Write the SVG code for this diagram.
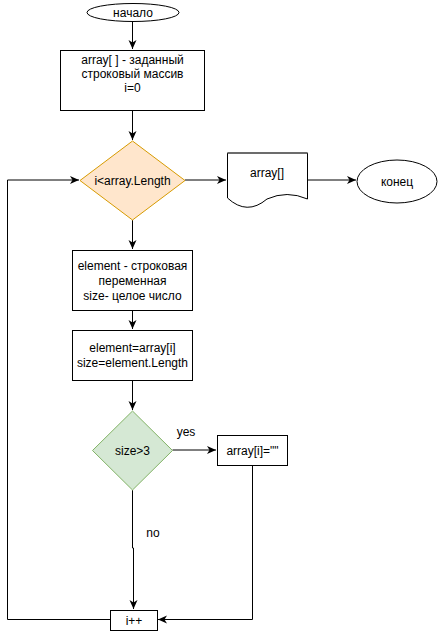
<svg xmlns="http://www.w3.org/2000/svg" width="438" height="631" viewBox="0 0 438 631">
<style>
text{font-family:"Liberation Sans",Arial,sans-serif;font-size:12px;fill:#000;text-anchor:middle;dominant-baseline:central}
.n{fill:#fff;stroke:#000;stroke-width:1}
.c{fill:none;stroke:#000;stroke-width:1}
</style>
<defs>
<marker id="a" viewBox="0 0 10 10" refX="9" refY="5" markerWidth="10" markerHeight="10" markerUnits="userSpaceOnUse" orient="auto">
<path d="M0,1 L9,5 L0,9 L2.5,5 Z" fill="#000"/>
</marker>
</defs>
<rect width="438" height="631" fill="#fff"/>
<g id="connectors">
<path class="c" d="M132.5,21 V49" marker-end="url(#a)"/>
<path class="c" d="M132.5,110 V140" marker-end="url(#a)"/>
<path class="c" d="M185,180 H226" marker-end="url(#a)"/>
<path class="c" d="M307,180 H356" marker-end="url(#a)"/>
<path class="c" d="M132.5,220 V249" marker-end="url(#a)"/>
<path class="c" d="M132.5,310 V329" marker-end="url(#a)"/>
<path class="c" d="M132.5,380 V410" marker-end="url(#a)"/>
<path class="c" d="M172.5,450 H216" marker-end="url(#a)"/>
<path class="c" d="M132.5,490 V548 H133.5 V609" marker-end="url(#a)"/>
<path class="c" d="M252.5,465 V619.5 H158" marker-end="url(#a)"/>
<path class="c" d="M110,619.5 H7.5 V180 H79" marker-end="url(#a)"/>
<text x="186" y="432">yes</text>
<text x="153" y="533">no</text>
</g>
<g id="start">
<ellipse class="n" cx="133" cy="12.5" rx="46" ry="9"/>
<text x="133" y="12.5">начало</text>
</g>
<g id="init">
<rect class="n" x="60.5" y="50.5" width="144" height="60"/>
<text x="132.5" y="60">array[ ] - заданный</text>
<text x="132.5" y="74">строковый массив</text>
<text x="132.5" y="88">i=0</text>
</g>
<g id="cond1">
<path d="M132.5,141 L185,180.5 L132.5,220 L80,180.5 Z" fill="#ffe6cc" stroke="#d79b00"/>
<text x="132.5" y="180.5">i&lt;array.Length</text>
</g>
<g id="output">
<path class="n" d="M227.5,153 H307.5 V199 Q287,190 267,199 Q247,216 227.5,198 Z"/>
<path d="M227.5,153 H307.5" stroke="#666" stroke-width="1.5" fill="none"/>
<text x="267" y="173">array[]</text>
</g>
<g id="end">
<ellipse class="n" cx="397" cy="181.5" rx="40" ry="21.5"/>
<text x="397" y="181.5">конец</text>
</g>
<g id="decl">
<rect class="n" x="72.5" y="250.5" width="120" height="60"/>
<text x="132.5" y="266">element - строковая</text>
<text x="132.5" y="281">переменная</text>
<text x="132.5" y="296">size- целое число</text>
</g>
<g id="assign">
<rect class="n" x="72.5" y="330.5" width="120" height="50"/>
<text x="132.5" y="348">element=array[i]</text>
<text x="132.5" y="363">size=element.Length</text>
</g>
<g id="cond2">
<path d="M132.5,411 L172.5,450.5 L132.5,490 L92.5,450.5 Z" fill="#d5e8d4" stroke="#82b366"/>
<text x="132.5" y="450.5">size&gt;3</text>
</g>
<g id="clear">
<rect class="n" x="217.5" y="435.5" width="70" height="30"/>
<text x="252.5" y="450.5">array[i]=""</text>
</g>
<g id="inc">
<rect class="n" x="110.5" y="610.5" width="47" height="20"/>
<text x="134" y="620.5">i++</text>
</g>
</svg>
